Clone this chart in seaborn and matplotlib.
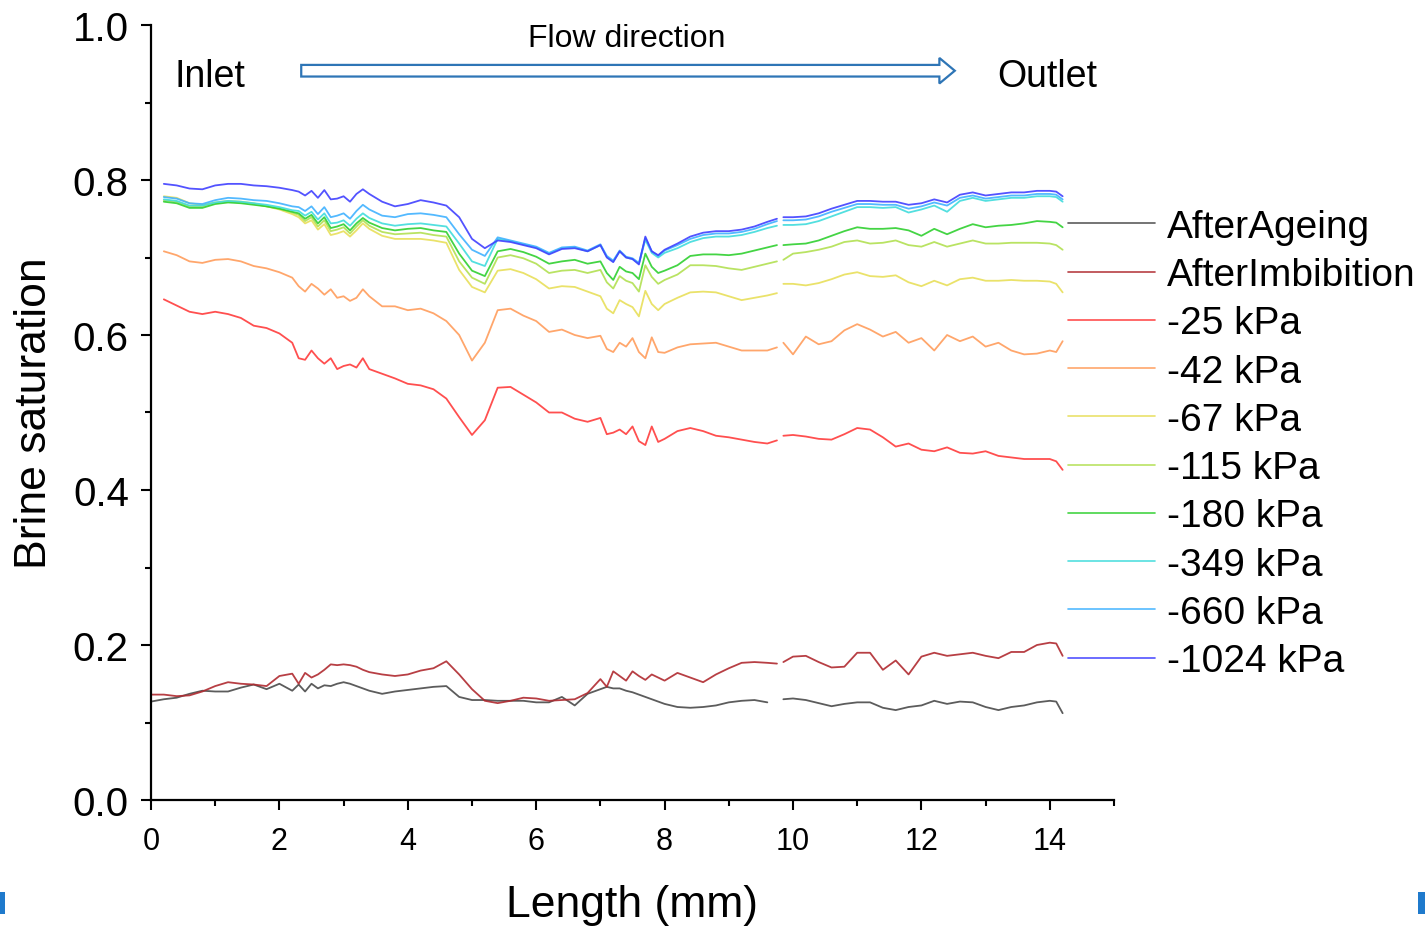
import numpy as np
import pandas as pd
import matplotlib
matplotlib.use("Agg")
import matplotlib.pyplot as plt
import seaborn as sns
from matplotlib.patches import FancyArrow, Rectangle
from matplotlib.ticker import MultipleLocator, FormatStrFormatter

nan = np.nan

# Position along the sample (mm); values >= 9.8 belong to the second scan segment
length_mm = [0.0, 0.2, 0.4, 0.6, 0.8, 1.0, 1.2, 1.4, 1.6, 1.8, 2.0,
             2.2, 2.3, 2.4, 2.5, 2.6, 2.7, 2.8, 2.9, 3.0, 3.1, 3.2, 3.3, 3.4,
             3.6, 3.8, 4.0, 4.2, 4.4, 4.6, 4.8, 5.0, 5.2, 5.4, 5.6, 5.8, 6.0, 6.2, 6.4, 6.6, 6.8, 7.0,
             7.1, 7.2, 7.3, 7.4, 7.5, 7.6, 7.7, 7.8, 7.9, 8.0,
             8.2, 8.4, 8.6, 8.8, 9.0, 9.2, 9.4, 9.6, 9.75,
             9.85, 10.0, 10.2, 10.4, 10.6, 10.8, 11.0, 11.2, 11.4, 11.6, 11.8, 12.0,
             12.2, 12.4, 12.6, 12.8, 13.0, 13.2, 13.4, 13.6, 13.8, 14.0, 14.1, 14.2]

after_ageing = [.127, .130, .132, .137, .141, .140, .140, .145, .149, .143, .150,
                .141, .149, .140, .150, .144, .148, .147, .150, .152, .150, .147, .144, .141,
                .137, .140, .142, .144, .146, .147, .133, .129, .129, .128, .128, .128, .126, .126, .133, .122, .137, .143,
                .146, .144, .144, .141, .139, .136, .133, .130, .127, .124,
                .120, .119, .120, .122, .126, .128, .129, .126, nan,
                .130, .131, .129, .125, .121, .124, .126, .126, .119, .116, .120, .122,
                .128, .124, .127, .126, .120, .116, .120, .122, .126, .128, .127, .112]

after_imbibition = [.136, .136, .134, .135, .140, .147, .152, .150, .149, .147, .160,
                    .163, .150, .164, .158, .162, .168, .175, .174, .175, .174, .172, .168, .165,
                    .162, .160, .162, .167, .170, .179, .162, .143, .128, .125, .128, .132, .131, .128, .129, .130, .138, .156,
                    .146, .166, .160, .154, .166, .160, .155, .162, .158, .154,
                    .164, .158, .152, .162, .170, .177, .178, .177, .176,
                    .178, .185, .186, .178, .171, .172, .190, .190, .168, .180, .162, .185,
                    .190, .186, .188, .190, .186, .183, .191, .191, .200, .203, .202, .186]

kpa_25 = [nan, .646, .638, .630, .627, .630, .627, .622, .612, .609, .602,
          .590, .570, .568, .580, .570, .563, .570, .556, .560, .562, .558, .570, .556,
          .550, .544, .537, .535, .530, .518, .494, .471, .490, .532, .533, .523, .513, .500, .500, .492, .488, .493,
          .472, .474, .478, .472, .482, .463, .458, .482, .462, .466,
          .476, .480, .476, .470, .468, .465, .462, .460, .464,
          .470, .471, .469, .466, .465, .472, .480, .478, .468, .456, .460, .452,
          .450, .455, .448, .447, .450, .444, .442, .440, .440, .440, .437, .426]

kpa_42 = [nan, .708, .703, .695, .693, .697, .698, .695, .689, .686, .681,
          .674, .663, .656, .666, .660, .652, .659, .648, .650, .644, .648, .659, .650,
          .637, .637, .632, .634, .628, .618, .600, .567, .590, .632, .634, .625, .618, .604, .607, .600, .596, .599,
          .582, .578, .590, .585, .596, .578, .570, .597, .578, .577,
          .584, .588, .589, .590, .585, .580, .580, .580, .584,
          .590, .575, .598, .588, .592, .606, .614, .607, .598, .604, .590, .596,
          .580, .600, .592, .598, .585, .590, .580, .575, .576, .580, .578, .592]

kpa_67 = [nan, .779, .777, .770, .768, .771, .773, .772, .770, .766, .762,
          .756, .752, .744, .748, .736, .743, .729, .731, .734, .727, .735, .744, .737,
          .728, .724, .724, .724, .722, .719, .684, .662, .655, .683, .685, .680, .672, .660, .663, .662, .656, .650,
          .634, .628, .645, .640, .636, .624, .657, .640, .632, .640,
          .648, .655, .656, .655, .650, .645, .648, .651, .654,
          .666, .666, .664, .667, .672, .678, .681, .676, .675, .677, .668, .663,
          .670, .664, .672, .674, .670, .670, .671, .670, .670, .669, .666, .655]

kpa_115 = [nan, .774, .772, .766, .766, .770, .772, .771, .769, .766, .763,
           .758, .755, .747, .752, .740, .748, .734, .736, .739, .731, .740, .748, .741,
           .733, .730, .731, .732, .729, .727, .695, .674, .666, .700, .703, .699, .692, .680, .683, .684, .680, .684,
           .668, .660, .676, .670, .667, .656, .690, .675, .666, .671,
           .678, .690, .690, .689, .686, .684, .688, .692, .695,
           .697, .705, .707, .710, .714, .720, .722, .718, .719, .722, .716, .714,
           .720, .714, .718, .722, .718, .718, .719, .719, .719, .718, .716, .710]

kpa_180 = [nan, .772, .770, .764, .764, .769, .771, .770, .768, .766, .763,
           .759, .757, .750, .755, .744, .752, .738, .740, .743, .735, .744, .751, .745,
           .738, .735, .737, .738, .735, .733, .705, .683, .676, .708, .711, .707, .701, .692, .695, .697, .692, .695,
           .680, .671, .688, .682, .680, .672, .705, .688, .680, .683,
           .690, .702, .704, .704, .703, .705, .709, .713, .716,
           .716, .717, .718, .722, .728, .734, .739, .737, .737, .738, .735, .728,
           .737, .730, .737, .743, .739, .741, .742, .744, .747, .746, .745, .739]

kpa_349 = [nan, .775, .773, .767, .767, .771, .773, .772, .770, .768, .765,
           .761, .760, .754, .759, .749, .757, .744, .745, .748, .741, .750, .757, .751,
           .744, .741, .743, .744, .742, .740, .718, .695, .689, .724, .721, .717, .713, .705, .712, .713, .708, .716,
           .701, .695, .708, .700, .698, .692, .723, .706, .700, .706,
           .712, .720, .725, .727, .727, .729, .733, .738, .741,
           .742, .742, .743, .747, .753, .759, .765, .765, .764, .765, .758, .762,
           .767, .759, .773, .777, .773, .775, .777, .777, .779, .779, .778, .772]

kpa_660 = [nan, .778, .776, .770, .769, .774, .777, .776, .774, .773, .770,
           .766, .765, .760, .766, .756, .765, .752, .754, .757, .750, .760, .768, .762,
           .754, .752, .756, .757, .755, .752, .730, .710, .702, .726, .722, .718, .714, .706, .713, .714, .709, .717,
           .702, .696, .709, .701, .699, .693, .725, .708, .702, .709,
           .716, .724, .729, .731, .731, .733, .737, .743, .747,
           .748, .748, .749, .753, .759, .764, .769, .769, .768, .768, .763, .766,
           .771, .767, .777, .780, .776, .778, .780, .780, .782, .782, .781, .775]

kpa_1024 = [nan, .795, .793, .789, .788, .793, .795, .795, .793, .792, .790,
            .787, .785, .780, .786, .777, .787, .775, .776, .779, .772, .782, .788, .782,
            .772, .766, .769, .774, .771, .767, .752, .724, .712, .722, .720, .716, .712, .704, .711, .712, .708, .716,
            .700, .694, .708, .700, .698, .691, .727, .708, .703, .710,
            .718, .727, .732, .734, .734, .736, .740, .746, .750,
            .752, .752, .753, .757, .763, .768, .773, .773, .772, .772, .768, .770,
            .775, .771, .781, .784, .780, .782, .784, .784, .786, .786, .785, .779]

series_names = ["AfterAgeing", "AfterImbibition", "-25 kPa", "-42 kPa", "-67 kPa",
                "-115 kPa", "-180 kPa", "-349 kPa", "-660 kPa", "-1024 kPa"]
series_values = [after_ageing, after_imbibition, kpa_25, kpa_42, kpa_67,
                 kpa_115, kpa_180, kpa_349, kpa_660, kpa_1024]
series_colors = ["#4a4a4a", "#b02a30", "#ff3c3c", "#ff9d5c", "#e8df5a",
                 "#b2e052", "#30d030", "#40dcdc", "#40b2ff", "#4040ff"]

rows = []
for name, vals in zip(series_names, series_values):
    assert len(vals) == len(length_mm), name
    for xv, yv in zip(length_mm, vals):
        rows.append((name, xv, yv, 0 if xv < 9.8 else 1))
df = pd.DataFrame(rows, columns=["series", "length", "sat", "segment"]).dropna()

sns.set_style("ticks")
plt.rcParams["font.family"] = ["Liberation Sans", "DejaVu Sans"]
plt.rcParams["text.color"] = "black"
plt.rcParams["axes.labelcolor"] = "black"
plt.rcParams["xtick.color"] = "black"
plt.rcParams["ytick.color"] = "black"

W, H = 1425, 928
fig = plt.figure(figsize=(W / 100, H / 100), dpi=100)
ax = fig.add_axes([151 / W, 1 - 801 / H, (1114 - 151) / W, (801 - 26) / H])

sns.lineplot(data=df, x="length", y="sat", hue="series", hue_order=series_names,
             palette=dict(zip(series_names, series_colors)), units="segment",
             estimator=None, sort=False, linewidth=1.3, alpha=0.9, ax=ax, legend=True)

ax.set_xlim(0, 15)
ax.set_ylim(0, 1.0)
ax.xaxis.set_major_locator(MultipleLocator(2))
ax.xaxis.set_minor_locator(MultipleLocator(1))
ax.yaxis.set_major_locator(MultipleLocator(0.2))
ax.yaxis.set_minor_locator(MultipleLocator(0.1))
ax.yaxis.set_major_formatter(FormatStrFormatter("%.1f"))
for s in ["top", "right"]:
    ax.spines[s].set_visible(False)
for s in ["left", "bottom"]:
    ax.spines[s].set_linewidth(1.6)
    ax.spines[s].set_color("black")
ax.tick_params(which="major", direction="out", length=7, width=1.5, color="black")
ax.tick_params(which="minor", direction="out", length=4, width=1.5, color="black")
ax.tick_params(axis="x", which="major", labelsize=22, pad=12, labelcolor="black")
ax.tick_params(axis="y", which="major", labelsize=29, pad=9, labelcolor="black")

ax.set_xlabel("Length (mm)", fontsize=32, color="black")
ax.set_ylabel("Brine saturation", fontsize=32, color="black")
ax.xaxis.set_label_coords(0.4995, -0.109)
ax.yaxis.set_label_coords(-0.1, 0.5)

handles, labels = ax.get_legend_handles_labels()
leg = ax.legend(handles, labels, loc="center left", bbox_to_anchor=(1068 / W, 1 - 445 / H),
                bbox_transform=fig.transFigure, frameon=False, fontsize=28,
                handlelength=2.23, handletextpad=0.31, labelspacing=0.315,
                borderpad=0, borderaxespad=0)
for ln in leg.get_lines():
    ln.set_linewidth(1.2)
for t in leg.get_texts():
    t.set_color("black")

ax.text(0.37, 0.934, "Inlet", fontsize=27, ha="left", va="center")
ax.text(13.18, 0.934, "Outlet", fontsize=27, ha="left", va="center")
ax.text(7.41, 0.983, "Flow direction", fontsize=23, ha="center", va="center")
arrow = FancyArrow(2.34, 0.941, 12.52 - 2.34, 0, width=0.0150, head_width=0.033,
                   head_length=0.24, length_includes_head=True,
                   facecolor="white", edgecolor="#2e75b6", linewidth=1.6)
ax.add_patch(arrow)

fig.add_artist(Rectangle((0, 1 - 915 / H), 5 / W, 22 / H, transform=fig.transFigure,
                         facecolor="#1f7acc", edgecolor="none"))
fig.add_artist(Rectangle((1418 / W, 1 - 915 / H), 7 / W, 22 / H, transform=fig.transFigure,
                         facecolor="#1f7acc", edgecolor="none"))

fig.savefig("out.png", dpi=100)
